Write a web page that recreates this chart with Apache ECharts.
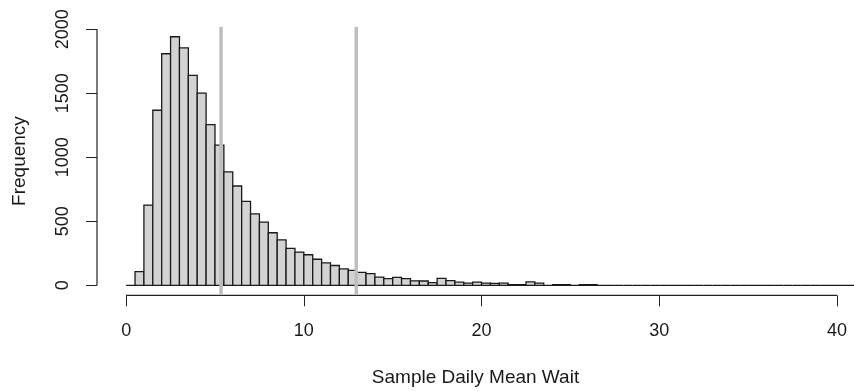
<!DOCTYPE html>
<html>
<head>
<meta charset="utf-8">
<script src="https://cdn.jsdelivr.net/npm/echarts@6/dist/echarts.min.js"></script>
<style>html,body{margin:0;padding:0;background:#fff;}#c{width:854px;height:391px;}</style>
</head>
<body>
<div id="c"></div>
<script>
// Histogram bin left edges (width 0.5)
const binStarts = [0,0.5,1,1.5,2,2.5,3,3.5,4,4.5,5,5.5,6,6.5,7,7.5,8,8.5,9,9.5,10,10.5,11,11.5,12,12.5,13,13.5,14,14.5,15,15.5,16,16.5,17,17.5,18,18.5,19,19.5,20,20.5,21,21.5,22,22.5,23,23.5,24,24.5,25,25.5,26,26.5,27,27.5,28,28.5,29,29.5,30,30.5,31,31.5,32,32.5,33,33.5,34,34.5,35,35.5,36,36.5,37,37.5,38,38.5,39,39.5,40,40.5];
const binWidth = 0.5;
const counts = [0,108,627,1368,1809,1942,1855,1640,1502,1256,1096,887,776,656,559,494,411,356,289,260,239,204,175,155,129,117,101,91,64,52,63,52,35,34,22,55,37,25,17,26,17,16,17,6,6,27,17,0,5,5,0,5,5,0,0,0,0,0,0,0,0,0,0,0,0,0,0,0,0,0,0,0,0,0,0,0,0,0,0,0,0,0];
const refLines = [5.34, 12.95];
const xTicks = [0, 10, 20, 30, 40];
const yTicks = [0, 500, 1000, 1500, 2000];
const xLabel = 'Sample Daily Mean Wait';
const yLabel = 'Frequency';

const yMaxData = Math.max(...counts);
const yMin = -0.04 * yMaxData, yMax = yMaxData * 1.04;
const xMin = -1.64, xMax = 40.96;

const histData = binStarts.map((s, i) => [s, s + binWidth, counts[i]]);
const FONT = 'Liberation Sans, Arial, sans-serif';
const TXT = '#1a1a1a';
const plain = v => String(v);

const chart = echarts.init(document.getElementById('c'), null, {renderer: 'canvas'});
chart.setOption({
  animation: false,
  backgroundColor: '#fff',
  grid: {left: 97, top: 26.8, bottom: 95.7, right: 0, containLabel: false, outerBoundsMode: 'none'},
  xAxis: {
    type: 'value', min: xMin, max: xMax,
    axisLine: {show: false, onZero: false},
    splitLine: {show: false},
    axisTick: {show: true, customValues: xTicks, length: 11, lineStyle: {color: '#222', width: 1}},
    axisLabel: {customValues: xTicks, formatter: plain, margin: 27, fontSize: 18, color: TXT, fontFamily: FONT},
    name: xLabel, nameLocation: 'middle', nameGap: 73,
    nameTextStyle: {fontSize: 19, color: TXT, fontFamily: FONT}
  },
  yAxis: {
    type: 'value', min: yMin, max: yMax,
    axisLine: {show: false, onZero: false},
    splitLine: {show: false},
    axisTick: {show: true, customValues: yTicks, length: 11, lineStyle: {color: '#222', width: 1}},
    axisLabel: {customValues: yTicks, formatter: plain, margin: 25, rotate: 90, fontSize: 18, color: TXT, fontFamily: FONT},
    name: yLabel, nameLocation: 'middle', nameGap: 68, nameRotate: 90,
    nameTextStyle: {fontSize: 19, color: TXT, fontFamily: FONT}
  },
  series: [
    {
      type: 'custom',
      name: 'hist',
      data: histData,
      clip: true,
      renderItem: function (params, api) {
        const p0 = api.coord([api.value(0), 0]);
        const p1 = api.coord([api.value(1), api.value(2)]);
        return {
          type: 'rect',
          shape: {x: p0[0], y: p1[1], width: p1[0] - p0[0], height: p0[1] - p1[1]},
          style: {fill: '#d3d3d3', stroke: '#1a1a1a', lineWidth: 1.3}
        };
      }
    },
    {
      type: 'custom',
      name: 'axes',
      data: [[0]],
      clip: false,
      silent: true,
      renderItem: function (params, api) {
        const xa = api.coord([xTicks[0], yMin]);
        const xb = api.coord([xTicks[xTicks.length - 1], yMin]);
        const ya = api.coord([xMin, yTicks[0]]);
        const yb = api.coord([xMin, yTicks[yTicks.length - 1]]);
        const st = {stroke: '#222', lineWidth: 1.2};
        return {
          type: 'group',
          children: [
            {type: 'line', shape: {x1: xa[0], y1: xa[1], x2: xb[0], y2: xb[1]}, style: st},
            {type: 'line', shape: {x1: ya[0], y1: ya[1], x2: yb[0], y2: yb[1]}, style: st}
          ]
        };
      }
    },
    {
      type: 'custom',
      name: 'ref',
      data: refLines.map(v => [v]),
      clip: true,
      silent: true,
      z: 5,
      renderItem: function (params, api) {
        const a = api.coord([api.value(0), yMin]);
        const b = api.coord([api.value(0), yMax]);
        return {type: 'line', shape: {x1: a[0], y1: a[1], x2: b[0], y2: b[1]}, style: {stroke: '#bebebe', lineWidth: 3.5}};
      }
    }
  ]
});
</script>
</body>
</html>
